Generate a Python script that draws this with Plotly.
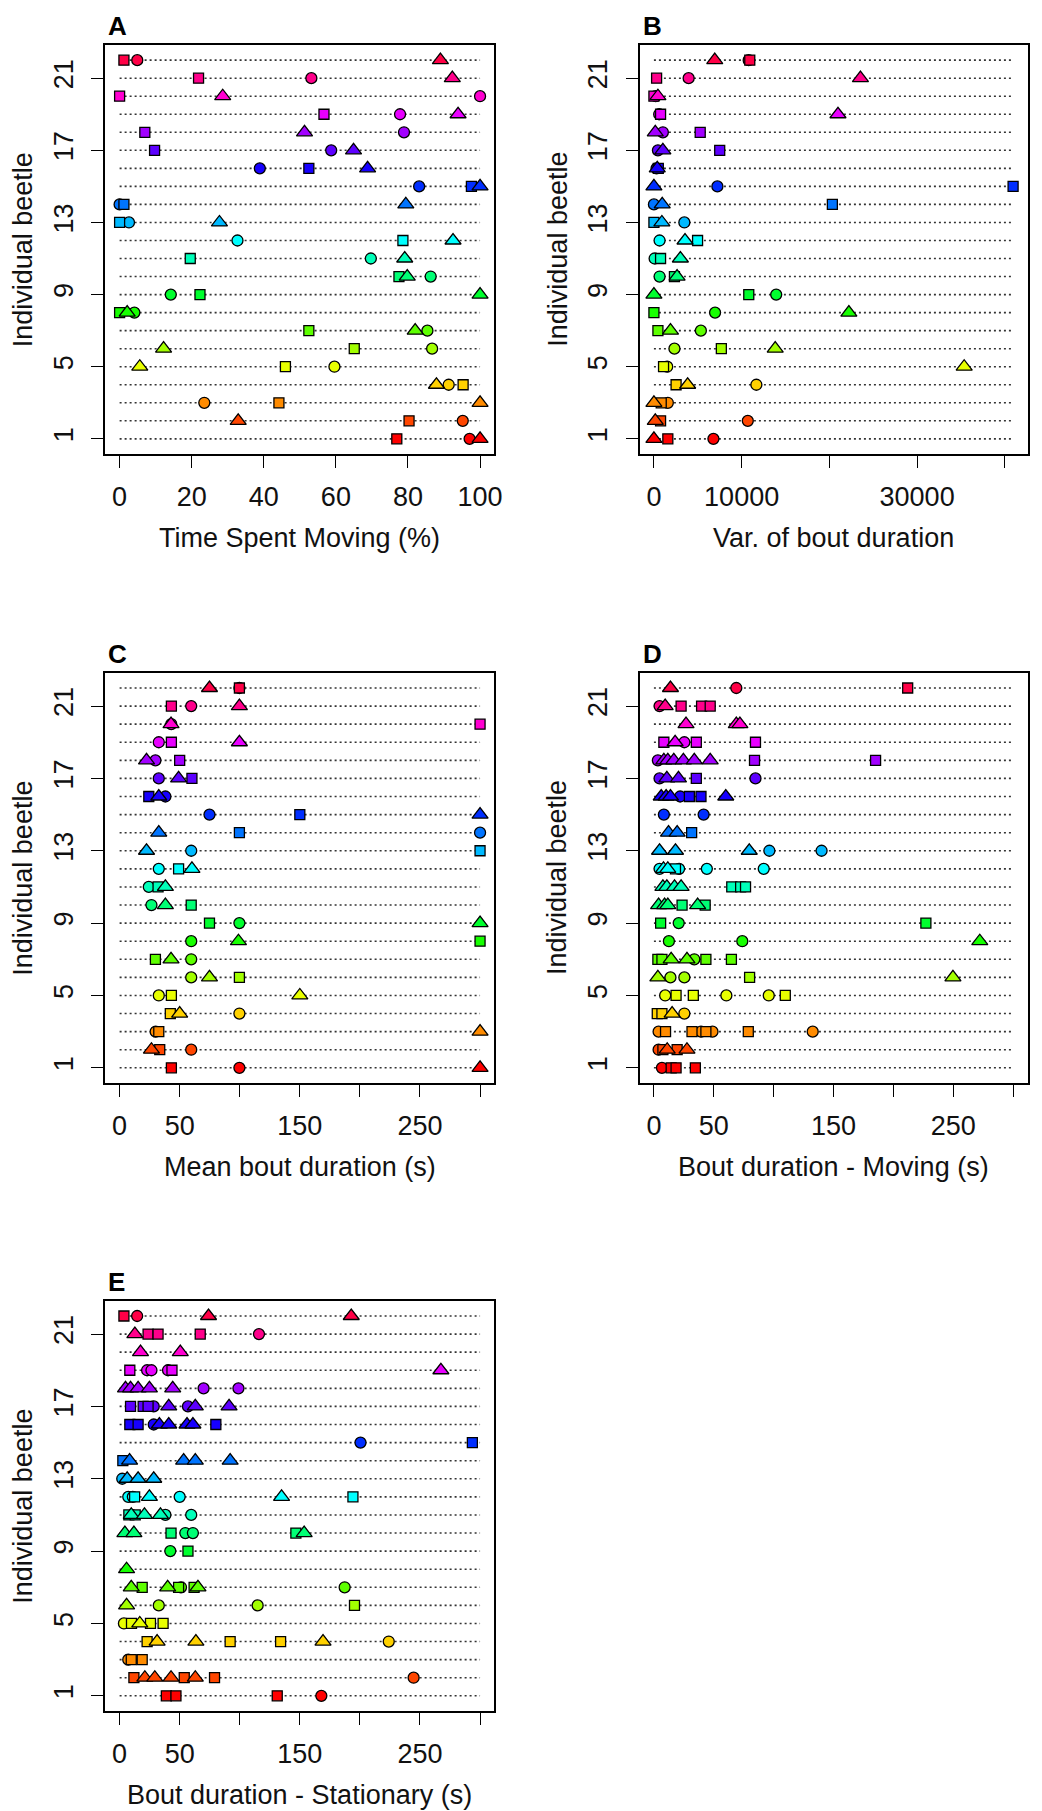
import colorsys
import plotly.graph_objects as go

# ---------------- data (rows = individual beetles 1..22) ----------------
BEETLES = list(range(1, 23))

# Panel A: Time spent moving (%) -- one value per shape per beetle
A_square = [76.9, 80.3, 44.2, 95.3, 46.0, 65.1, 52.5, 0.0, 22.3, 77.5, 19.6,
            78.6, 0.0, 1.2, 97.6, 52.5, 9.7, 7.0, 56.7, 0.0, 21.9, 1.2]
A_circle = [97.1, 95.2, 23.5, 91.3, 59.6, 86.7, 85.4, 4.1, 14.2, 86.3, 69.7,
            32.7, 2.6, 0.0, 83.1, 38.9, 58.7, 78.9, 77.8, 100.0, 53.2, 4.9]
A_triangle = [100.0, 32.9, 100.0, 87.9, 5.6, 12.2, 82.0, 2.1, 100.0, 79.8, 79.1,
              92.5, 27.7, 79.4, 100.0, 68.8, 64.9, 51.3, 93.9, 28.6, 92.3, 89.0]

# Panel B: variance of bout duration
B_square = [1585, 757, 832, 2527, 1096, 7685, 456, 0, 10812, 2339, 757,
            4975, 0, 20340, 40940, 500, 7498, 5276, 757, 0, 305, 10925]
B_circle = [6782, 10700, 1585, 11678, 1510, 2339, 5352, 6970, 13938, 644, 79,
            644, 3468, 0, 7235, 300, 455, 1020, 600, 200, 3958, 10800]
B_triangle = [0, 154, 0, 3845, 35365, 13825, 1887, 22223, 0, 2640, 3016,
              3544, 908, 945, 0, 380, 1020, 154, 20980, 455, 23540, 6933]

# Panel C: mean bout duration (s)
C_square = [43.1, 33.4, 32.6, 42.2, 43.1, 99.7, 29.8, 300, 74.8, 59.6, 32.0,
            49.1, 300, 99.7, 150, 24.3, 60.2, 50.0, 43.1, 300, 43.1, 99.7]
C_circle = [99.7, 59.6, 30.0, 99.7, 32.6, 59.6, 59.6, 59.6, 99.7, 26.5, 24.3,
            32.6, 59.6, 300, 74.8, 38.1, 32.6, 29.8, 32.6, 43.0, 59.6, 99.7]
C_triangle = [300, 26.5, 300, 50.0, 150, 74.8, 42.8, 98.9, 300, 38.1, 38.1,
              60.2, 22.4, 32.6, 300, 32.6, 49.1, 22.4, 99.7, 42.8, 99.7, 74.8]

# Panel D: bout duration - moving (s), several bouts per shape per beetle
D_square = [[14.4, 18.5, 34.6], [7.5, 19.4], [9.7, 31.8, 43.4, 78.8], [2.8, 6.7],
            [18.5, 32.9, 109.7], [79.9], [3.3, 6.7, 43.4, 64.7], [], [5.6, 227.1],
            [23.5, 42.8], [65.0, 72.4, 76.5], [18.0], [], [31.5], [],
            [29.6, 39.3], [35.4], [84.0, 185.1], [8.3, 35.4, 84.8], [],
            [22.7, 39.8, 47.0], [211.9]]
D_circle = [[6.7], [3.9], [3.9, 39.3, 48.9, 132.6], [25.4], [9.4, 60.5, 95.9],
            [13.8, 25.4], [33.7], [12.5, 73.8], [20.7], [], [],
            [4.7, 21.0, 44.2, 91.7], [96.4, 140.0], [], [8.3, 41.5], [21.9],
            [4.7, 84.8], [3.3], [25.4], [], [4.7], [68.8]]
D_triangle = [[], [11.1, 27.6], [], [15.2], [], [3.3, 249.7], [14.4, 27.6],
              [272.1], [], [3.9, 8.9, 11.6, 36.5], [7.5, 10.8, 17.2, 22.7],
              [8.0, 11.6], [4.7, 18.0, 79.6], [12.2, 19.4], [],
              [6.1, 10.2, 13.8, 60.0], [10.8, 20.5],
              [8.3, 11.6, 16.6, 24.6, 33.7, 47.0], [17.7], [26.8, 68.8, 71.8],
              [9.4], [13.8]]

# Panel E: bout duration - stationary (s)
E_square = [[38.9, 46.9, 131.2], [11.9, 53.8, 79.0], [9.7, 18.8],
            [22.9, 92.0, 134.0], [9.9, 25.7, 36.2], [195.5], [18.8, 49.1, 62.0],
            [], [56.9], [42.8, 146.7], [7.7, 13.0], [12.5, 194.2], [], [2.7],
            [293.6], [8.5, 15.4, 80.1], [9.1, 19.6, 23.7], [], [8.5, 43.6], [],
            [23.7, 32.0, 67.1], [3.6]]
E_circle = [[167.9], [244.7], [7.2], [224.0], [3.6], [32.6, 114.9], [51.1, 187.3],
            [], [42.2], [54.7, 61.0], [38.1, 59.6], [7.2, 11.0, 50.0], [2.2], [],
            [200.5], [28.4], [28.4, 56.9], [69.9, 98.9], [22.9, 26.5, 40.3], [],
            [116.0], [14.6]]
E_triangle = [[], [21.0, 29.3, 42.8, 63.0], [], [31.2, 63.5, 169.3], [16.8], [5.8],
              [9.7, 40.0, 65.2], [5.8], [], [4.4, 11.9, 153.6], [9.7, 20.7, 34.0],
              [24.8, 134.8], [6.3, 15.4, 28.4], [8.3, 53.3, 63.0, 92.0], [],
              [33.1, 40.9, 56.1, 61.0], [40.9, 63.0, 91.1],
              [4.9, 9.1, 15.4, 24.8, 44.2], [267.4], [17.4, 50.5], [12.7],
              [74.0, 192.8]]

PANEL_LETTERS = ["A", "B", "C", "D", "E"]
X_TITLES = ["Time Spent Moving (%)", "Var. of bout duration", "Mean bout duration (s)",
            "Bout duration - Moving (s)", "Bout duration - Stationary (s)"]
Y_TITLE = "Individual beetle"
Y_TICKS = [1, 5, 9, 13, 17, 21]
XLIMS = [(0, 100), (0, 40950), (0, 300), (0, 300), (0, 300)]
X_TICKVALS = [[0, 20, 40, 60, 80, 100],
              [0, 10000, 20000, 30000, 40000],
              [0, 50, 100, 150, 200, 250, 300],
              [0, 50, 100, 150, 200, 250, 300],
              [0, 50, 100, 150, 200, 250, 300]]
X_TICKTEXT = [["0", "20", "40", "60", "80", "100"],
              ["0", "10000", "", "30000", ""],
              ["0", "50", "", "150", "", "250", ""],
              ["0", "50", "", "150", "", "250", ""],
              ["0", "50", "", "150", "", "250", ""]]

# ---------------- layout geometry (pixels) ----------------
W, H = 1042, 1811
BOXES = [((106, 498.3), (45, 454)),
         ((644.5, 1035.5), (45, 454)),
         ((106, 498.3), (672.8, 1083)),
         ((644.5, 1035.5), (672.8, 1083)),
         ((106, 498.3), (1300.8, 1711))]

FONT = "Liberation Sans, Arial, sans-serif"
FS = 27


def colour(row):
    r, g, b = colorsys.hsv_to_rgb((row - 1) / 22.0, 1.0, 1.0)
    return "rgb(%d,%d,%d)" % (round(r * 255), round(g * 255), round(b * 255))


def flatten(per_row):
    xs, ys = [], []
    for row, vals in zip(BEETLES, per_row):
        for v in vals:
            xs.append(v)
            ys.append(row)
    return xs, ys


single = {0: (A_square, A_circle, A_triangle),
          1: (B_square, B_circle, B_triangle),
          2: (C_square, C_circle, C_triangle)}
multi = {3: (D_square, D_circle, D_triangle),
         4: (E_square, E_circle, E_triangle)}

fig = go.Figure()
annotations = []

for i in range(5):
    ax = "" if i == 0 else str(i + 1)
    xref, yref = "x" + ax, "y" + ax
    lo, hi = XLIMS[i]

    # dotted guide lines
    lx, ly = [], []
    for row in BEETLES:
        lx += [lo, hi, None]
        ly += [row, row, None]
    fig.add_trace(go.Scatter(x=lx, y=ly, mode="lines", xaxis=xref, yaxis=yref,
                             line=dict(color="#333333", width=1.6, dash="2px,3px"),
                             hoverinfo="skip", showlegend=False))

    if i in single:
        sq, ci, tr = single[i]
        sets = [(ci, BEETLES, "circle", 11), (sq, BEETLES, "square", 10),
                (tr, BEETLES, "triangle-up", 14)]
    else:
        sq, ci, tr = multi[i]
        cx, cy = flatten(ci)
        sx, sy = flatten(sq)
        tx, ty = flatten(tr)
        sets = [(cx, cy, "circle", 11), (sx, sy, "square", 10),
                (tx, ty, "triangle-up", 14)]

    for xs, ys, sym, size in sets:
        fig.add_trace(go.Scatter(x=xs, y=list(ys), mode="markers", xaxis=xref, yaxis=yref,
                                 marker=dict(symbol=sym, size=size,
                                             color=[colour(r) for r in ys],
                                             line=dict(color="black", width=1.3)),
                                 hoverinfo="skip", showlegend=False))

    (xl, xr), (yt, yb) = BOXES[i]
    pad = 0.04 * (hi - lo)
    axis_common = dict(showline=True, mirror=True, linecolor="black", linewidth=1.5,
                       ticks="outside", ticklen=12, tickwidth=1.4, tickcolor="black",
                       showgrid=False, zeroline=False, fixedrange=True,
                       tickfont=dict(family=FONT, size=FS, color="#111"))
    fig.layout["xaxis" + ax] = dict(domain=[xl / W, xr / W], anchor=yref,
                                    range=[lo - pad, hi + pad],
                                    tickmode="array", tickvals=X_TICKVALS[i],
                                    ticktext=X_TICKTEXT[i], ticklabelstandoff=6,
                                    **axis_common)
    fig.layout["yaxis" + ax] = dict(domain=[1 - yb / H, 1 - yt / H], anchor=xref,
                                    range=[0.16, 22.84], tickmode="array",
                                    tickvals=Y_TICKS, ticktext=[str(t) for t in Y_TICKS],
                                    tickangle=-90, ticklabelstandoff=8,
                                    **axis_common)

    annotations.append(dict(text="<b>%s</b>" % PANEL_LETTERS[i], xref="paper", yref="paper",
                            x=(xl + 1) / W, y=1 - (yt - 19) / H, xanchor="left",
                            yanchor="middle", showarrow=False,
                            font=dict(family=FONT, size=26, color="black")))
    annotations.append(dict(text=X_TITLES[i], xref="paper", yref="paper",
                            x=(xl + xr) / 2 / W, y=1 - (yb + 84) / H, xanchor="center",
                            yanchor="middle", showarrow=False,
                            font=dict(family=FONT, size=FS, color="#111")))
    annotations.append(dict(text=Y_TITLE, xref="paper", yref="paper", textangle=-90,
                            x=(xl - 83) / W, y=1 - (yt + yb) / 2 / H, xanchor="center",
                            yanchor="middle", showarrow=False,
                            font=dict(family=FONT, size=FS, color="#111")))

fig.update_layout(width=W, height=H, margin=dict(l=0, r=0, t=0, b=0),
                  paper_bgcolor="white", plot_bgcolor="white",
                  showlegend=False, hovermode=False, annotations=annotations)

fig.write_html("out.html", config={"displayModeBar": False})
